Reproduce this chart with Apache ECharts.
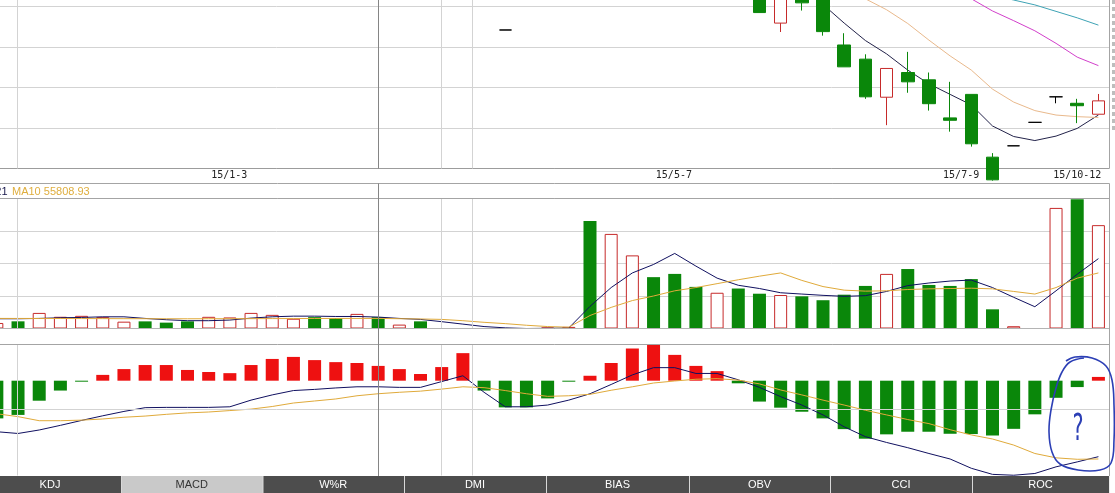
<!DOCTYPE html>
<html>
<head>
<meta charset="utf-8">
<script src="https://cdn.jsdelivr.net/npm/echarts@6.0.0/dist/echarts.min.js"></script>
<style>
html,body{margin:0;padding:0;background:#ffffff;}
#chart{width:1115px;height:493px;}
</style>
</head>
<body>
<div id="chart"></div>
<script>
// ---------------- data (one entry per period, leftmost partially visible) ----------------
const periods = ['P00','P01','P02','P03','P04','P05','P06','P07','P08','P09','P10','P11','P12','P13','P14','P15','P16','P17','P18','P19','P20','P21','P22','P23','P24','P25','P26','P27','P28','P29','P30','P31','P32','P33','P34','P35','P36','P37','P38','P39','P40','P41','P42','P43','P44','P45','P46','P47','P48','P49','P50','P51','P52'];

// [open, close, low, high]; null = candle lies above the visible price range
const ohlc = [
  null,null,null,null,null,null,null,null,null,null,null,null,
  null,null,null,null,null,null,null,null,null,null,null,null,
  [13.42,13.42,13.42,13.42],
  null,null,null,null,null,null,null,null,null,null,null,
  [14.31,13.85,13.85,14.40],
  [13.59,14.24,13.37,14.26],
  [14.25,14.09,13.90,14.30],
  [14.21,13.38,13.28,14.25],
  [13.05,12.51,12.51,13.34],
  [12.70,11.77,11.72,12.82],
  [11.76,12.47,11.07,12.47],
  [12.37,12.14,11.87,12.88],
  [12.19,11.60,11.43,12.37],
  [11.25,11.19,10.91,12.14],
  [11.83,10.61,10.54,11.83],
  [10.28,9.72,9.70,10.38],
  [10.56,10.56,10.56,10.56],
  [11.14,11.14,11.14,11.14],
  [11.77,11.77,11.61,11.77],
  [11.61,11.55,11.12,11.72],
  [11.34,11.67,11.34,11.84]
];

const priceMA5  = Array(38).fill(null).concat([14.51,14.05,13.59,13.16,12.83,12.43,12.09,11.83,11.57,11.05,10.79,10.69,10.80,10.99,11.32]);
const priceMA10 = Array(39).fill(null).concat([14.90,14.53,14.19,13.92,13.58,13.17,12.78,12.43,11.96,11.64,11.43,11.32,11.28,11.26]);
const priceMA20 = Array(44).fill(null).concat([14.78,14.46,14.19,13.89,13.65,13.40,13.09,12.75,12.54]);
const priceMA30 = Array(46).fill(null).concat([14.41,14.28,14.16,14.04,13.88,13.72,13.54]);

const volume = [30580,39710,86320,64890,70150,62940,37860,39540,32470,39620,64730,61280,86410,75530,54090,62970,57680,80930,63040,21570,39660,0,0,0,0,0,5420,8970,595760,523880,404950,284430,302370,230460,197940,221380,192650,185420,178160,156630,187240,235790,302420,329380,241230,235760,273640,106180,12610,0,667830,716370,572440];
// 1 = up period (red hollow), 0 = down period (green)
const volUp = [1,0,1,1,1,1,1,0,0,0,1,1,1,1,1,0,0,1,0,1,0,1,1,1,1,1,1,1,0,1,1,0,0,0,1,0,0,1,0,0,0,0,1,0,0,0,0,0,1,1,1,0,1];
const volMA5 = [54000,54000,55800,59400,61200,64800,64800,55800,48600,43200,43200,46800,57600,64800,68400,68400,66600,66600,63176.21,55800,50400,37800,24300,10800,3600,0,1080,2880,122400,226800,307800,354600,415800,345600,279000,239400,221400,198000,190800,183600,178200,181800,205200,237600,252000,262800,268200,226800,172800,120600,208800,300600,387000];
const volMA10 = [55900,55700,55600,55400,55100,54700,54400,54200,54000,53900,54100,54300,54600,54900,55200,55500,55700,55900,55808.93,54200,52800,50400,43200,34200,27000,18000,10800,7200,72000,117000,154800,180000,208800,226800,248400,270000,289800,307800,266400,232200,212400,207000,208800,216000,219600,221400,223200,219600,205200,190800,226800,279000,307800];

const macdHist = [-0.130,-0.118,-0.069,-0.034,-0.002,0.020,0.040,0.054,0.054,0.037,0.030,0.026,0.054,0.075,0.082,0.071,0.064,0.061,0.051,0.040,0.023,0.047,0.095,-0.034,-0.092,-0.092,-0.061,-0.002,0.017,0.061,0.111,0.126,0.089,0.051,0.033,-0.009,-0.072,-0.093,-0.107,-0.130,-0.167,-0.200,-0.185,-0.176,-0.176,-0.183,-0.184,-0.189,-0.166,-0.116,-0.059,-0.022,0.013];
const macdDIF = [-0.176,-0.182,-0.170,-0.154,-0.137,-0.121,-0.106,-0.093,-0.092,-0.092,-0.092,-0.090,-0.067,-0.049,-0.034,-0.030,-0.025,-0.021,-0.021,-0.023,-0.023,-0.003,0.017,-0.040,-0.090,-0.090,-0.084,-0.067,-0.045,-0.013,0.020,0.045,0.045,0.025,0.025,0.003,-0.023,-0.055,-0.084,-0.118,-0.159,-0.193,-0.213,-0.231,-0.251,-0.270,-0.302,-0.323,-0.326,-0.320,-0.297,-0.280,-0.262];
const macdDEA = [-0.114,-0.124,-0.138,-0.138,-0.136,-0.132,-0.126,-0.122,-0.116,-0.111,-0.108,-0.103,-0.098,-0.089,-0.077,-0.070,-0.063,-0.052,-0.045,-0.040,-0.036,-0.029,-0.021,-0.024,-0.034,-0.045,-0.054,-0.052,-0.047,-0.033,-0.021,-0.008,-0.001,0.005,0.007,0.002,-0.011,-0.032,-0.049,-0.067,-0.084,-0.102,-0.118,-0.134,-0.148,-0.169,-0.187,-0.201,-0.222,-0.251,-0.266,-0.271,-0.270];

const dateLabels = ['15/1-3','15/5-7','15/7-9','15/10-12'];
const dateLabelPos = [9.97, 30.96, 44.52, 50.0];      // period positions (value axis)
const lightVLinePos = [-0.03, 20.0, 21.45];           // period positions of faint vertical guides
const cursorIndex = 18;                                // crosshair period
const tabNames = ['KDJ','MACD','W%R','DMI','BIAS','OBV','CCI','ROC'];
const activeTab = 1;

// ---------------- styling / layout ----------------
const RED = '#c62a2a', GREEN = '#0a870a';
const GRID_L = -13.75, GRID_R = 6;
const tabEdges = [-21,121,262.5,404,546,689,830,972,1109];

const candleData = ohlc.map(d => {
  if (!d) return ['-','-','-','-'];
  if (d[0] === d[1]) return {value:d, itemStyle:{color:'#000',color0:'#000',borderColor:'#000',borderColor0:'#000'}};
  return d;
});
const volData = volume.map((v,i) => ({value:v, itemStyle: volUp[i]
  ? {color:'#ffffff', borderColor:RED, borderWidth:1}
  : {color:GREEN, borderWidth:0}}));
const macdData = macdHist.map(v => ({value:v, itemStyle:{color: v >= 0 ? '#ee1111' : GREEN}}));

function catAxis(g){ return {type:'category', gridIndex:g, data:periods, show:false, position:'top', boundaryGap:true}; }
function valAxis(g, extra){ return Object.assign({type:'value', gridIndex:g, min:-1.5, max:51.5, show:false, position:'bottom', splitLine:{show:false}}, extra || {}); }
const hiddenY = {axisLine:{show:false}, axisTick:{show:false}, axisLabel:{show:false}, splitLine:{show:true, lineStyle:{color:'#d3d3d3', width:1}}};

function line(name, data, xi, yi, color, z){
  return {name, type:'line', data, xAxisIndex:xi, yAxisIndex:yi, showSymbol:false, symbol:'none',
    lineStyle:{color, width:1}, itemStyle:{color}, z: z, silent:true, connectNulls:false, clip:true};
}
function guides(xi, yi, extraLines){
  const data = lightVLinePos.map(p => ({xAxis:p})).concat(extraLines || []);
  return {type:'line', data:[], xAxisIndex:xi, yAxisIndex:yi, silent:true, z:1,
    markLine:{silent:true, symbol:['none','none'], label:{show:false}, animation:false,
      lineStyle:{color:'#d3d3d3', type:'solid', width:1}, data}};
}
function gridBox(top, bottom){
  return {left:GRID_L, right:GRID_R, top, bottom, outerBoundsMode:'none', containLabel:false};
}

const chart = echarts.init(document.getElementById('chart'));
chart.setOption({
  animation:false,
  backgroundColor:'#ffffff',
  grid:[ gridBox(-34, 324.5), gridBox(198.5, 164.5), gridBox(344.5, 17.5) ],
  xAxis:[
    catAxis(0),
    valAxis(0, {show:true, axisLine:{show:true, lineStyle:{color:'#9c9c9c'}}, axisTick:{show:false},
      axisLabel:{show:true, customValues:dateLabelPos, margin:2, color:'#222',
        fontFamily:'DejaVu Sans Mono', fontSize:10,
        formatter: v => { const i = dateLabelPos.indexOf(v); return i >= 0 ? dateLabels[i] : ''; }}}),
    catAxis(1), valAxis(1),
    catAxis(2), valAxis(2)
  ],
  yAxis:[
    Object.assign({type:'value', gridIndex:0, min:10, max:15, interval:1}, hiddenY),
    Object.assign({type:'value', gridIndex:1, min:0, max:720000, interval:180000}, hiddenY),
    {type:'value', gridIndex:2, min:-0.3269, max:0.1248, show:false}
  ],
  series:[
    guides(1,0), guides(3,1), guides(5,2,[{yAxis:-0.1}]),
    line('MA5', priceMA5, 0, 0, '#23234a', 3),
    line('MA10', priceMA10, 0, 0, '#e9b98c', 3),
    line('MA20', priceMA20, 0, 0, '#d23fcb', 3),
    line('MA30', priceMA30, 0, 0, '#3ea3b5', 3),
    {name:'K', type:'candlestick', xAxisIndex:0, yAxisIndex:0, data:candleData, barWidth:13, z:5, clip:true, silent:true,
      itemStyle:{color:'#ffffff', color0:GREEN, borderColor:RED, borderColor0:GREEN, borderWidth:1}},
    {name:'VOL', type:'bar', xAxisIndex:2, yAxisIndex:1, data:volData, barWidth:13, z:3, silent:true},
    line('VMA5', volMA5, 2, 1, '#101060', 4),
    line('VMA10', volMA10, 2, 1, '#e0aa3a', 4),
    {name:'MACD', type:'bar', xAxisIndex:4, yAxisIndex:2, data:macdData, barWidth:13, barMinHeight:1, z:3, silent:true},
    line('DIF', macdDIF, 4, 2, '#101060', 4),
    line('DEA', macdDEA, 4, 2, '#e0aa3a', 4)
  ]
});

// ---------------- frame, crosshair, header, tabs, annotation ----------------
const cx = Math.floor(chart.convertToPixel({xAxisIndex:0}, periods[cursorIndex])) + 0.5;
const RX = 1109.5;
const g = [];
function hline(y, x1, x2, c){ g.push({type:'line', z:50, silent:true, shape:{x1, y1:y, x2, y2:y}, style:{stroke:c, lineWidth:1}}); }
function vline(x, y1, y2, c, w){ g.push({type:'line', z:60, silent:true, shape:{x1:x, y1, x2:x, y2}, style:{stroke:c, lineWidth:w || 1}}); }
hline(183.5, 0, RX, '#a4a4a4');
hline(198.5, 0, RX, '#a4a4a4');
hline(328.5, 0, RX, '#b4b4b4');
hline(344.5, 0, RX, '#a4a4a4');
vline(RX, 0, 168.5, '#a4a4a4');
vline(RX, 183.5, 476, '#a4a4a4');
vline(cx, 0, 168.5, '#858585');
vline(cx, 183.5, 476, '#858585');
g.push({type:'line', z:50, silent:true, shape:{x1:1113.5, y1:0, x2:1113.5, y2:133}, style:{stroke:'#bdbdbd', lineWidth:3, lineDash:[4,3]}});

g.push({type:'text', z:70, silent:true, style:{text:'MA5 ' + volMA5[cursorIndex].toFixed(2), x:7.5, y:191.5, align:'right', verticalAlign:'middle', font:'11px "Liberation Sans"', fill:'#16164a'}});
g.push({type:'text', z:70, silent:true, style:{text:'MA10 ' + volMA10[cursorIndex].toFixed(2), x:12, y:191.5, align:'left', verticalAlign:'middle', font:'11px "Liberation Sans"', fill:'#dfae3e'}});

g.push({type:'rect', z:80, silent:true, shape:{x:0, y:476, width:RX, height:17}, style:{fill:'#d8d8d8'}});
tabNames.forEach((name, i) => {
  const x0 = tabEdges[i], x1 = tabEdges[i+1];
  const active = i === activeTab;
  g.push({type:'rect', z:81, silent:true, shape:{x:x0 + 1, y:476, width:x1 - x0 - 1, height:17},
    style:{fill: active ? '#c9c9c9' : '#4d4d4d'}});
  g.push({type:'text', z:82, silent:true, style:{text:name, x:(Math.max(x0, -21) + x1) / 2, y:484.5, align:'center', verticalAlign:'middle',
    font:'11px "Liberation Sans"', fill: active ? '#333333' : '#ffffff'}});
});

g.push({type:'polyline', z:90, silent:true, shape:{smooth:0.4, points:[[1084,358],[1070,362],[1062,372],[1056,388],[1051,410],[1049,432],[1052,452],[1060,464],[1078,470],[1100,470],[1111,463],[1114,440],[1114,405],[1112,380],[1106,366],[1092,358],[1075,357],[1066,361]]},
  style:{stroke:'#2c3fb5', lineWidth:1.6, fill:null}});
g.push({type:'text', z:90, silent:true, x:1078, y:430, scaleX:0.55, style:{text:'?', x:0, y:0, align:'center', verticalAlign:'middle', font:'38px "DejaVu Sans"', fill:'#2c3fb5'}});

chart.setOption({graphic:g});
</script>
</body>
</html>
